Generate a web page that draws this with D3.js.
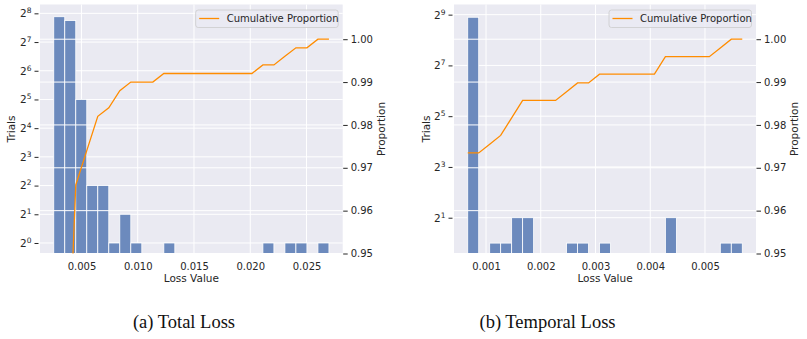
<!DOCTYPE html>
<html lang="en">
<head>
  <meta charset="utf-8" />
  <title>Loss histograms</title>
<style>

body {
	margin:0px;
	background:#fff;
}

.tick text, .axislabel, .legendtext {
	font-family: 'DejaVu Sans', sans-serif;
	fill: #262626;
}

.caption {
	font-family: 'Liberation Serif', 'DejaVu Serif', serif;
	font-size: 18.5px;
	fill: #111;
}

</style>
</head>

<body>
	<svg width="807" height="339"></svg>

	<script src="https://cdn.jsdelivr.net/npm/d3@7/dist/d3.min.js"></script>
	<script>

	// histogram counts per bin (25 bins each)
	var totalCounts = [236, 215, 32, 4, 4, 1, 2, 1, 0, 0, 1, 0, 0, 0, 0, 0, 0, 0, 0, 1, 0, 1, 1, 0, 1];
	var totalBinStart = 0.00254;
	var totalBinWidth = 0.000978;

	var temporalCounts = [477, 0, 1, 1, 2, 2, 0, 0, 0, 1, 1, 0, 1, 0, 0, 0, 0, 0, 2, 0, 0, 0, 0, 1, 1];
	var temporalBinStart = 0.000666;
	var temporalBinWidth = 0.0002006;

	var totalXTicks = [0.005, 0.010, 0.015, 0.020, 0.025];
	var temporalXTicks = [0.001, 0.002, 0.003, 0.004, 0.005];

	var totalYExps = [0, 1, 2, 3, 4, 5, 6, 7, 8];
	var temporalYExps = [1, 3, 5, 7, 9];

	var propTicks = [0.95, 0.96, 0.97, 0.98, 0.99, 1.00];

	var captions = ["(a) Total Loss", "(b) Temporal Loss"];

	var svg = d3.select("svg");

	var barColour = "#6c8abd",
		lineColour = "#ff8c00",
		bgColour = "#eaeaf2";

	function drawPanel(opt) {

		var left = opt.left, right = opt.right, top = 4.5, bottom = 253.5;

		var g = svg.append("g");

		// matplotlib style 5% margins around the bin range
		var lo = opt.binStart,
			hi = opt.binStart + opt.binWidth * opt.counts.length,
			pad = (hi - lo) * 0.05;

		var x = d3.scaleLinear().domain([lo - pad, hi + pad]).range([left, right]);
		var y = d3.scaleLog().base(2).domain([Math.pow(2, opt.yLog[0]), Math.pow(2, opt.yLog[1])]).range([bottom, top]);
		var yR = d3.scaleLinear().domain([0.95, 1.0081]).range([bottom, top]);

		g.append("rect")
			.attr("x", left).attr("y", top)
			.attr("width", right - left).attr("height", bottom - top)
			.attr("fill", bgColour);

		var clipId = "clip" + opt.id;
		g.append("clipPath").attr("id", clipId)
			.append("rect")
			.attr("x", left).attr("y", top)
			.attr("width", right - left).attr("height", bottom - top);

		// grid of the count axis
		g.selectAll(".gx").data(opt.xTicks).enter().append("line")
			.attr("x1", function(d) { return x(d); }).attr("x2", function(d) { return x(d); })
			.attr("y1", top).attr("y2", bottom)
			.attr("stroke", "#fff").attr("stroke-width", 1);

		g.selectAll(".gy").data(opt.yExps).enter().append("line")
			.attr("x1", left).attr("x2", right)
			.attr("y1", function(d) { return y(Math.pow(2, d)); }).attr("y2", function(d) { return y(Math.pow(2, d)); })
			.attr("stroke", "#fff").attr("stroke-width", 1);

		// bars
		var bins = opt.counts.map(function(c, i) {
			return {x0: opt.binStart + i * opt.binWidth, x1: opt.binStart + (i + 1) * opt.binWidth, count: c};
		}).filter(function(d) { return d.count > 0; });

		g.append("g").attr("clip-path", "url(#" + clipId + ")")
			.selectAll("rect").data(bins).enter().append("rect")
			.attr("x", function(d) { return x(d.x0); })
			.attr("width", function(d) { return x(d.x1) - x(d.x0); })
			.attr("y", function(d) { return y(d.count); })
			.attr("height", function(d) { return bottom - y(d.count); })
			.attr("fill", barColour)
			.attr("stroke", "#fff")
			.attr("stroke-width", 0.8);

		// grid of the twin (proportion) axis sits above the bars
		g.selectAll(".gr").data(propTicks).enter().append("line")
			.attr("x1", left).attr("x2", right)
			.attr("y1", function(d) { return yR(d); }).attr("y2", function(d) { return yR(d); })
			.attr("stroke", "#fff").attr("stroke-width", 1);

		// cumulative proportion at the bin edges
		var total = d3.sum(opt.counts);
		var cum = d3.cumsum(opt.counts);
		var pts = d3.range(opt.counts.length + 1).map(function(k) {
			return [opt.binStart + k * opt.binWidth, cum[Math.min(k, opt.counts.length - 1)] / total];
		});

		g.append("path")
			.datum(pts)
			.attr("clip-path", "url(#" + clipId + ")")
			.attr("fill", "none")
			.attr("stroke", lineColour)
			.attr("stroke-width", 1.3)
			.attr("d", d3.line().x(function(d) { return x(d[0]); }).y(function(d) { return yR(d[1]); }));

		// x axis labels
		g.append("g")
			.attr("transform", "translate(0," + bottom + ")")
			.call(d3.axisBottom(x).tickValues(opt.xTicks).tickSize(0).tickPadding(9).tickFormat(d3.format(".3f")))
			.call(function(a) { a.select(".domain").remove(); })
			.selectAll("text").attr("font-size", 10);

		// left log axis, labels as 2^n
		var yAxis = g.append("g")
			.attr("transform", "translate(" + (left - 1.5) + ",0)")
			.call(d3.axisLeft(y).tickValues(opt.yExps.map(function(e) { return Math.pow(2, e); })).tickSize(4).tickPadding(3).tickFormat(""));
		yAxis.select(".domain").remove();
		yAxis.selectAll(".tick line").attr("stroke", "#262626").attr("stroke-width", 1);
		yAxis.selectAll(".tick text").each(function(d) {
			var t = d3.select(this).attr("font-size", 10.5);
			t.append("tspan").text("2");
			t.append("tspan").attr("dy", -4).attr("font-size", 7.5).text(Math.round(Math.log2(d)));
		});

		// right proportion axis
		var rAxis = g.append("g")
			.attr("transform", "translate(" + (right + 0.5) + ",0)")
			.call(d3.axisRight(yR).tickValues(propTicks).tickSize(4.5).tickPadding(3).tickFormat(d3.format(".2f")));
		rAxis.select(".domain").remove();
		rAxis.selectAll(".tick line").attr("stroke", "#262626").attr("stroke-width", 1);
		rAxis.selectAll(".tick text").attr("font-size", 10);

		// axis titles
		g.append("text").attr("class", "axislabel")
			.attr("x", (left + right) / 2).attr("y", 282)
			.attr("text-anchor", "middle").attr("font-size", 10.5)
			.text("Loss Value");

		g.append("text").attr("class", "axislabel")
			.attr("transform", "translate(" + opt.trialsX + "," + ((top + bottom) / 2) + ") rotate(-90)")
			.attr("text-anchor", "middle").attr("font-size", 10.5)
			.text("Trials");

		g.append("text").attr("class", "axislabel")
			.attr("transform", "translate(" + opt.propX + "," + ((top + bottom) / 2) + ") rotate(-90)")
			.attr("text-anchor", "middle").attr("font-size", 10.5)
			.text("Proportion");

		// legend
		var lg = g.append("g").attr("transform", "translate(" + (right - 147) + ",10)");
		lg.append("rect")
			.attr("width", 142.5).attr("height", 17.5).attr("rx", 2.5)
			.attr("fill", bgColour).attr("fill-opacity", 0.8)
			.attr("stroke", "#cccccc").attr("stroke-width", 0.8);
		lg.append("line")
			.attr("x1", 3.5).attr("x2", 23.5).attr("y1", 8.5).attr("y2", 8.5)
			.attr("stroke", lineColour).attr("stroke-width", 1.3);
		lg.append("text").attr("class", "legendtext")
			.attr("x", 31).attr("y", 12.3).attr("font-size", 10)
			.text("Cumulative Proportion");

		// caption
		svg.append("text").attr("class", "caption")
			.attr("x", opt.captionX).attr("y", 327.5)
			.attr("text-anchor", "middle")
			.text(opt.caption);
	}

	drawPanel({
		id: "a", left: 40, right: 342.7,
		counts: totalCounts, binStart: totalBinStart, binWidth: totalBinWidth,
		xTicks: totalXTicks, yExps: totalYExps, yLog: [-0.366, 8.308],
		trialsX: 15, propX: 385, captionX: 184, caption: captions[0]
	});

	drawPanel({
		id: "b", left: 454, right: 756,
		counts: temporalCounts, binStart: temporalBinStart, binWidth: temporalBinWidth,
		xTicks: temporalXTicks, yExps: temporalYExps, yLog: [-0.41, 9.40],
		trialsX: 430, propX: 798, captionX: 547.5, caption: captions[1]
	});

	</script>
</body>
</html>
